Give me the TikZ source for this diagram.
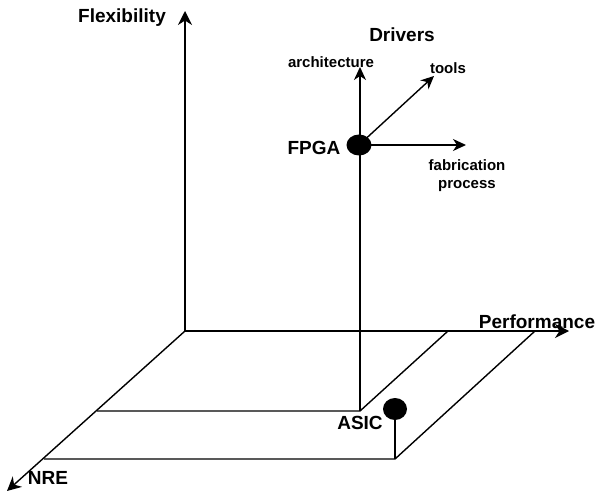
\documentclass[tikz,border=0pt]{standalone}
\usepackage{fontspec}
\setmainfont{Liberation Sans}
\usetikzlibrary{arrows.meta,shapes.geometric}
\begin{document}
\begin{tikzpicture}[x=1pt,y=-1pt,
  edge/.style={line width=1.4pt},
  axis/.style={edge,-{Stealth[length=14pt,width=14pt,inset=4.5pt]}},
  drv/.style={edge,-{Stealth[length=13pt,width=12pt,inset=4pt]}},
  big/.style={inner sep=0pt,font=\fontsize{19}{22}\selectfont\bfseries},
  small/.style={inner sep=0pt,align=center,font=\fontsize{15}{18}\selectfont\bfseries},
  blob/.style={ellipse,fill=black,inner sep=0pt,minimum width=25pt,minimum height=21pt}]
\useasboundingbox (0,0) rectangle (600,492);

% axes
\coordinate (O) at (185,331);
\coordinate (flexTip) at (185,11);
\coordinate (perfTip) at (569,331);
\coordinate (nreTip) at (7,491);
\draw[axis] (O) -- (flexTip);
\draw[axis] (O) -- (perfTip);
\draw[axis] (O) -- (nreTip);

% inner base plane
\coordinate (a) at (97,411);
\coordinate (b) at (360,411);
\coordinate (c) at (448,331);
\draw[edge] (a) -- (b) -- (c);

% outer base plane
\coordinate (d) at (44,459);
\coordinate (e) at (395,459);
\coordinate (f) at (535,331);
\draw[edge] (d) -- (e) -- (f);

% FPGA with its drivers
\coordinate (archTip) at (360,67);
\coordinate (toolsTip) at (434,76);
\coordinate (fabTip) at (466,145);
\draw[drv] (b) -- (archTip);
\node[blob] (fpga) at (359,145) {};
\draw[drv] (fpga.center) -- (toolsTip);
\draw[drv] (fpga.center) -- (fabTip);

% ASIC
\node[blob,minimum width=24pt,minimum height=22pt] (asic) at (395,409) {};
\draw[edge] (e) -- (asic.center);

% labels
\node[big] (lflex) at (122,18) {Flexibility};
\node[big] (ldrv) at (402,35) {Drivers};
\node[small] (larch) at (331,62) {architecture};
\node[small] (ltools) at (448,68) {tools};
\node[small] (lfab) at (467,176) {fabrication\\process};
\node[big] (lfpga) at (314,148) {FPGA};
\node[big] (lperf) at (537,322) {Performance};
\node[big] (lnre) at (48,478) {NRE};
\node[big] (lasic) at (360,423) {ASIC};
\end{tikzpicture}
\end{document}
